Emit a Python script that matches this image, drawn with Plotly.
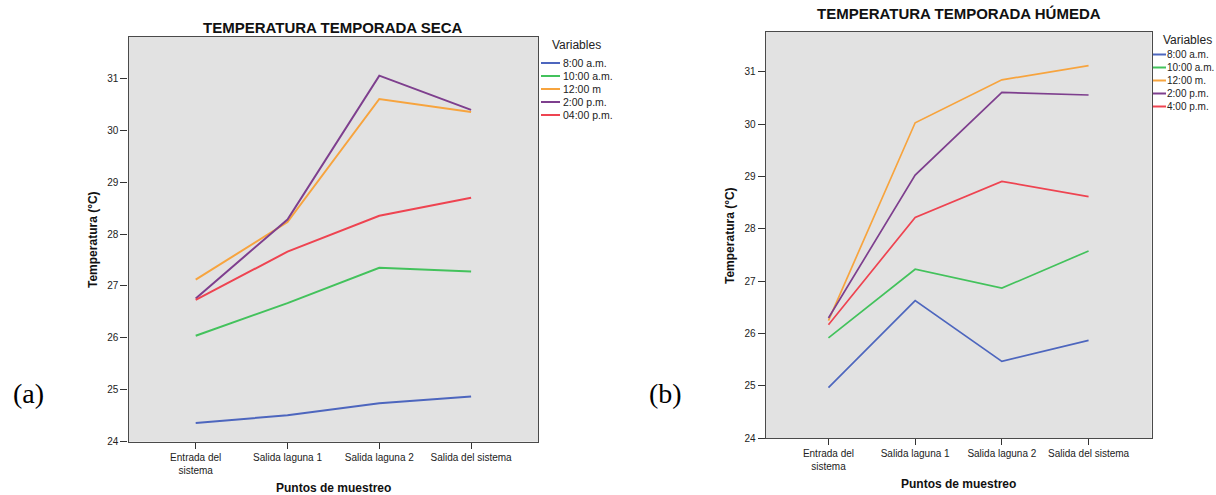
import plotly.graph_objects as go

W, H = 1216, 495

categories = ["Entrada del<br>sistema", "Salida laguna 1", "Salida laguna 2", "Salida del sistema"]

# Temporada seca (a)
seca_names = ["8:00 a.m.", "10:00 a.m.", "12:00 m", "2:00 p.m.", "04:00 p.m."]
seca_0800 = [24.36, 24.51, 24.74, 24.87]
seca_1000 = [26.04, 26.67, 27.35, 27.28]
seca_1200 = [27.12, 28.23, 30.60, 30.35]
seca_1400 = [26.76, 28.28, 31.05, 30.39]
seca_1600 = [26.73, 27.66, 28.35, 28.70]

# Temporada húmeda (b)
humeda_names = ["8:00 a.m.", "10:00 a.m.", "12:00 m.", "2:00 p.m.", "4:00 p.m."]
humeda_0800 = [24.97, 26.63, 25.47, 25.87]
humeda_1000 = [25.92, 27.23, 26.87, 27.58]
humeda_1200 = [26.25, 30.03, 30.85, 31.12]
humeda_1400 = [26.30, 29.03, 30.61, 30.56]
humeda_1600 = [26.17, 28.22, 28.91, 28.62]

y_ticks = [24, 25, 26, 27, 28, 29, 30, 31]
colors = ["#4D66BE", "#43C25C", "#F7A43E", "#7E3F8E", "#EE4451"]

FONT = "Liberation Sans, Arial, sans-serif"

seca = [seca_0800, seca_1000, seca_1200, seca_1400, seca_1600]
humeda = [humeda_0800, humeda_1000, humeda_1200, humeda_1400, humeda_1600]

fig = go.Figure()

for name, vals, c in zip(seca_names, seca, colors):
    fig.add_trace(go.Scatter(x=categories, y=vals, mode="lines", name=name,
                             line=dict(color=c, width=2), xaxis="x", yaxis="y",
                             showlegend=False))
for name, vals, c in zip(humeda_names, humeda, colors):
    fig.add_trace(go.Scatter(x=categories, y=vals, mode="lines", name=name,
                             line=dict(color=c, width=1.7), xaxis="x2", yaxis="y2",
                             showlegend=False))

def px_x(p):
    return p / W

def px_y(p):
    return 1 - p / H

# plot-area pixel boxes
L = dict(x0=128.5, x1=538.3, y0=36.7, y1=441.7)
R = dict(x0=765.6, x1=1151.6, y0=31.7, y1=438.3)

axis_common = dict(showline=True, mirror=True, linecolor="#4a4a4a", linewidth=1.2,
                   showgrid=False, zeroline=False, ticks="outside", tickcolor="#333",
                   tickfont=dict(family=FONT, size=10, color="#222"))

fig.update_layout(
    width=W, height=H,
    margin=dict(l=0, r=0, t=0, b=0, autoexpand=False),
    paper_bgcolor="white",
    plot_bgcolor="#E2E2E2",
    showlegend=False,
    xaxis=dict(domain=[px_x(L["x0"]), px_x(L["x1"])], anchor="y", type="category",
               range=[-0.732, 3.732], ticklen=6, **axis_common),
    yaxis=dict(domain=[px_y(L["y1"]), px_y(L["y0"])], anchor="x",
               range=[24, 31.8], tickvals=y_ticks, ticklen=7, **axis_common),
    xaxis2=dict(domain=[px_x(R["x0"]), px_x(R["x1"])], anchor="y2", type="category",
                range=[-0.725, 3.727], ticklen=6, **axis_common),
    yaxis2=dict(domain=[px_y(R["y1"]), px_y(R["y0"])], anchor="x2",
                range=[24, 31.77], tickvals=y_ticks, ticklen=7, **axis_common),
)

ann = []
def text(x, y, s, size, bold=False, angle=0, family=FONT, xanchor="center", color="#111"):
    ann.append(dict(x=px_x(x), y=px_y(y), xref="paper", yref="paper", text=(f"<b>{s}</b>" if bold else s),
                    showarrow=False, textangle=angle, xanchor=xanchor, yanchor="middle",
                    font=dict(family=family, size=size, color=color)))

# titles
text(333.4, 27, "TEMPERATURA TEMPORADA SECA", 15, bold=True)
text(958.6, 14, "TEMPERATURA TEMPORADA HÚMEDA", 15, bold=True)
# axis titles
text(333, 488, "Puntos de muestreo", 12, bold=True)
text(958, 484, "Puntos de muestreo", 12, bold=True)
text(93, 240, "Temperatura (°C)", 12, bold=True, angle=-90)
text(730, 236, "Temperatura (°C)", 12, bold=True, angle=-90)
# panel labels
text(28, 393, "(a)", 28, family="Liberation Serif, Times New Roman, serif", color="#000")
text(665, 393, "(b)", 28, family="Liberation Serif, Times New Roman, serif", color="#000")

shapes = []
def legend(x_line0, x_line1, x_text, y_title, x_title, ys, names, fs):
    text(x_title, y_title, "Variables", 12, xanchor="left", color="#222")
    for yy, nm, c in zip(ys, names, colors):
        shapes.append(dict(type="line", xref="paper", yref="paper",
                           x0=px_x(x_line0), x1=px_x(x_line1), y0=px_y(yy), y1=px_y(yy),
                           line=dict(color=c, width=2)))
        text(x_text, yy, nm, fs, xanchor="left", color="#222")

legend(541, 560, 561, 45, 550, [63, 76, 89, 102, 115], seca_names, 10.5)
legend(1153, 1166, 1165, 40, 1161, [54.5, 67.5, 80.5, 93.5, 106.5], humeda_names, 10)

fig.update_layout(annotations=ann, shapes=shapes)

fig.write_html("out.html", config={"displayModeBar": False},
               post_script="document.body.style.margin='0';document.body.style.overflow='hidden';")
